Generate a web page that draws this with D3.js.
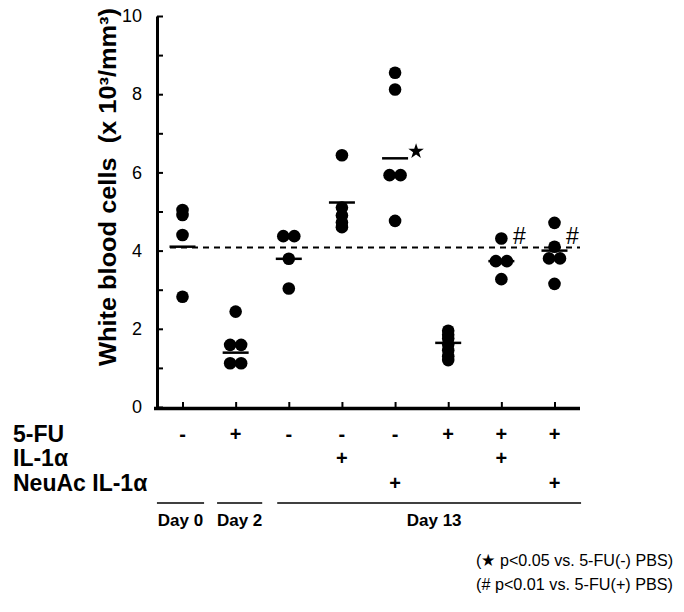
<!DOCTYPE html>
<html>
<head>
<meta charset="utf-8">
<script src="https://cdn.jsdelivr.net/npm/d3@7/dist/d3.min.js"></script>
</head>
<body style="margin:0">
<svg id="chart" width="684" height="612" font-family="Liberation Sans, Arial, sans-serif"></svg>
<script>
// ---------- data ----------
const groups = ["g1", "g2", "g3", "g4", "g5", "g6", "g7", "g8"];
const values = [
  [5.04, 4.91, 4.40, 2.82],
  [2.44, 1.59, 1.59, 1.12, 1.12],
  [4.37, 4.37, 3.79, 3.03],
  [6.44, 5.10, 4.90, 4.72, 4.60],
  [8.55, 8.12, 5.93, 5.93, 4.76],
  [1.95, 1.85, 1.75, 1.60, 1.45, 1.30, 1.20],
  [4.31, 3.73, 3.73, 3.27],
  [4.71, 4.10, 3.80, 3.80, 3.15]
];
const means = [4.10, 1.39, 3.79, 5.23, 6.36, 1.64, 3.73, 4.00];
const referenceLevel = 4.08;
const yTicks = [0, 1, 2, 3, 4, 5, 6, 7, 8, 9, 10];
const rowLabels = ["5-FU", "IL-1\u03b1", "NeuAc IL-1\u03b1"];
const row5FU = ["-", "+", "-", "-", "-", "+", "+", "+"];
const rowIL1 = ["", "", "", "+", "", "", "+", ""];
const rowNeuAc = ["", "", "", "", "+", "", "", "+"];
const days = [
  { label: "Day 0", from: 0, to: 0 },
  { label: "Day 2", from: 1, to: 1 },
  { label: "Day 13", from: 2, to: 7 }
];
const marks = [
  { group: 4, symbol: "star" },
  { group: 6, symbol: "#" },
  { group: 7, symbol: "#" }
];
const footnotes = ["(\u2605 p<0.05 vs. 5-FU(-) PBS)", "(# p<0.01 vs. 5-FU(+) PBS)"];

// ---------- layout ----------
const svg = d3.select("#chart");
const axisLeftX = 157, axisRightX = 580;
const y = d3.scaleLinear().domain([0, 10]).range([407, 16]);
const x = d3.scalePoint().domain(groups).range([axisLeftX, axisRightX]).padding(0.48);
const step = x.step();
const ink = "#000";

// y title
svg.append("text")
  .attr("transform", "translate(116,187) rotate(-90)")
  .attr("text-anchor", "middle")
  .attr("font-size", 23).attr("font-weight", "bold")
  .attr("textLength", 358).attr("lengthAdjust", "spacingAndGlyphs")
  .text("White blood cells\u00a0\u00a0(x 10\u00b3/mm\u00b3)");

// reference dashed line
svg.append("line")
  .attr("x1", axisLeftX + 13).attr("x2", axisRightX)
  .attr("y1", y(referenceLevel)).attr("y2", y(referenceLevel))
  .attr("stroke", ink).attr("stroke-width", 2)
  .attr("stroke-dasharray", "6,5");

// points
const r = 6.3, dodge = 11;
const pts = [];
values.forEach((vals, gi) => {
  const counts = d3.rollup(vals, v => v.length, v => v);
  const seen = new Map();
  vals.forEach(v => {
    const n = counts.get(v);
    const k = seen.get(v) || 0;
    seen.set(v, k + 1);
    pts.push({ g: groups[gi], v, off: (k - (n - 1) / 2) * dodge });
  });
});
svg.append("g").selectAll("circle").data(pts).join("circle")
  .attr("cx", d => x(d.g) + d.off)
  .attr("cy", d => y(d.v))
  .attr("r", r)
  .attr("fill", ink);

// mean lines
svg.append("g").selectAll("line").data(means).join("line")
  .attr("x1", (d, i) => x(groups[i]) - 13)
  .attr("x2", (d, i) => x(groups[i]) + 13)
  .attr("y1", d => y(d)).attr("y2", d => y(d))
  .attr("stroke", ink).attr("stroke-width", 2.5);

// significance marks
marks.forEach(m => {
  const gx0 = x(groups[m.group]);
  if (m.symbol === "star") {
    svg.append("path")
      .attr("d", d3.symbol(d3.symbolStar, 75)())
      .attr("transform", `translate(${gx0 + 21},${y(means[m.group]) - 7})`)
      .attr("fill", ink);
  } else {
    svg.append("text")
      .attr("x", gx0 + 18).attr("y", y(referenceLevel) - 3)
      .attr("text-anchor", "middle")
      .attr("font-size", 23)
      .text("#");
  }
});

// treatment table
const rows = [row5FU, rowIL1, rowNeuAc];
const rowBase = [442, 466, 491];
rowLabels.forEach((lab, i) => {
  svg.append("text").attr("x", 13).attr("y", rowBase[i])
    .attr("font-size", 23).attr("font-weight", "bold").text(lab);
  svg.append("g").selectAll("text").data(rows[i]).join("text")
    .attr("x", (d, j) => x(groups[j]))
    .attr("y", rowBase[i] - 1)
    .attr("text-anchor", "middle")
    .attr("font-size", 20).attr("font-weight", "bold")
    .text(d => d);
});

// day brackets
const dayInsetL = [1, 8, 15], dayInsetR = [5, 0, 0];
days.forEach((d, i) => {
  const x1 = x(groups[d.from]) - step / 2 + dayInsetL[i];
  const x2 = x(groups[d.to]) + step / 2 - dayInsetR[i];
  svg.append("line").attr("x1", x1).attr("x2", x2)
    .attr("y1", 503).attr("y2", 503)
    .attr("stroke", ink).attr("stroke-width", 1.5);
  svg.append("text").attr("x", (x1 + x2) / 2 + (i === 2 ? 5 : 0)).attr("y", 526)
    .attr("text-anchor", "middle")
    .attr("font-size", 17).attr("font-weight", "bold").text(d.label);
});

// footnotes
footnotes.forEach((t, i) => {
  svg.append("text").attr("x", 673).attr("y", 566 + i * 24)
    .attr("text-anchor", "end")
    .attr("font-size", 17)
    .attr("textLength", 197).attr("lengthAdjust", "spacingAndGlyphs")
    .text(t);
});

// ---------- axes ----------
const yAxis = d3.axisLeft(y).tickValues(yTicks).tickSizeInner(-6).tickSizeOuter(0)
  .tickPadding(15).tickFormat(d => d % 2 === 0 ? d : "");
const gy = svg.append("g").attr("transform", `translate(${axisLeftX},0)`).call(yAxis);
gy.select(".domain").attr("stroke", ink).attr("stroke-width", 3);
gy.selectAll(".tick line").attr("stroke", ink).attr("stroke-width", 2);
gy.selectAll(".tick text").attr("font-size", 18).attr("fill", ink)
  .attr("font-family", "Liberation Sans, Arial, sans-serif");

const xAxis = d3.axisBottom(x).tickSizeInner(-6).tickSizeOuter(0).tickFormat("");
const gx = svg.append("g").attr("transform", `translate(0,${y(0) + 1})`).call(xAxis);
gx.select(".domain").attr("stroke", ink).attr("stroke-width", 3.5)
  .attr("d", `M${axisLeftX - 3},0.5H${axisRightX}`);
gx.selectAll(".tick line").attr("stroke", ink).attr("stroke-width", 2);
</script>
</body>
</html>
